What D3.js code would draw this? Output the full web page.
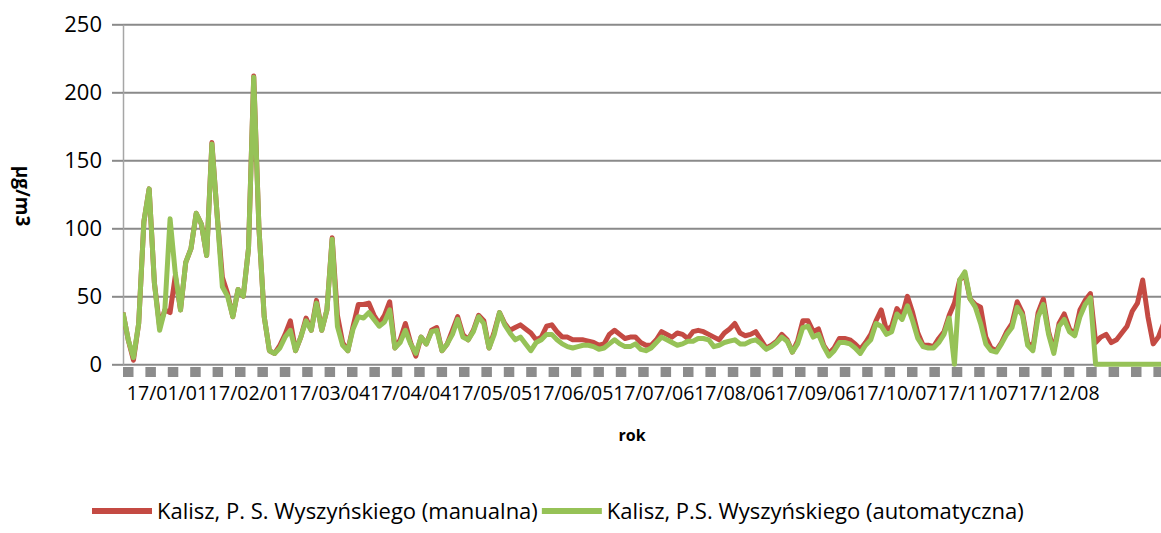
<!DOCTYPE html>
<html>
<head>
<meta charset="utf-8">
<script src="https://cdn.jsdelivr.net/npm/d3@7"></script>
<style>
  html, body { margin: 0; padding: 0; background: #fff; }
  svg { display: block; font-family: "Open Sans", sans-serif; }
</style>
</head>
<body>
<svg id="chart" width="1161" height="533"></svg>
<script>
const WIDTH = 1161;
const HEIGHT = 533;

// --- data: one value every 2 days ---
const STEP = 2;
const manualna = [
  38, 18, 3, 30, 105, 129, 60, 28, 40, 38,
  65, 40, 75, 85, 111, 103, 80, 163, 110, 64,
  52, 35, 55, 50, 85, 212, 100, 35, 10, 8,
  14, 22, 32, 10, 20, 34, 25, 47, 25, 40,
  93, 36, 16, 10, 28, 44, 44, 45, 36, 30,
  36, 46, 12, 18, 30, 16, 6, 20, 15, 25,
  27, 10, 15, 25, 35, 22, 18, 25, 36, 32,
  12, 24, 38, 30, 25, 27, 29, 26, 23, 18,
  20, 28, 29, 24, 20, 20, 18, 18, 18, 17,
  16, 14, 15, 22, 25, 22, 19, 20, 20, 16,
  14, 14, 18, 24, 22, 20, 23, 22, 19, 24,
  25, 24, 22, 20, 18, 23, 26, 30, 23, 21,
  22, 24, 18, 12, 14, 17, 22, 18, 9, 17,
  32, 32, 24, 26, 14, 8, 12, 19, 19, 18,
  15, 11, 16, 22, 32, 40, 25, 28, 41, 36,
  50, 38, 23, 14, 14, 13, 19, 24, 36, 45,
  62, 66, 48, 44, 42, 20, 12, 10, 16, 24,
  30, 46, 38, 16, 12, 38, 48, 24, 10, 30,
  37, 26, 22, 40, 47, 52, 16, 20, 22, 16,
  18, 23, 28, 39, 45, 62, 35, 15, 20, 30
];
const automatyczna = [
  38, 18, 5, 30, 105, 129, 60, 25, 40, 107,
  67, 40, 75, 85, 111, 103, 80, 162, 110, 57,
  50, 35, 55, 50, 85, 211, 100, 35, 10, 8,
  12, 20, 25, 10, 20, 32, 25, 45, 25, 40,
  92, 28, 14, 10, 26, 35, 34, 38, 33, 28,
  31, 40, 12, 16, 25, 15, 8, 20, 15, 24,
  25, 10, 15, 22, 33, 20, 18, 24, 35, 30,
  12, 22, 38, 29, 23, 18, 20, 15, 10, 16,
  18, 22, 22, 18, 15, 13, 12, 13, 14, 14,
  13, 11, 12, 15, 18, 15, 13, 13, 15, 11,
  10, 12, 16, 20, 18, 16, 14, 15, 17, 17,
  19, 19, 18, 13, 14, 16, 17, 18, 15, 15,
  17, 18, 15, 11, 13, 16, 20, 17, 9, 15,
  27, 28, 20, 22, 13, 6, 10, 16, 16, 15,
  12, 8, 14, 18, 30, 28, 22, 24, 37, 33,
  43, 32, 19, 13, 12, 12, 16, 22, 34, 0,
  62, 68, 48, 42, 30, 15, 10, 9, 15, 22,
  27, 42, 36, 14, 10, 35, 44, 22, 8, 28,
  33, 24, 21, 35, 44, 49, 0, 0, 0, 0,
  0, 0, 0, 0, 0, 0, 0, 0, 0, 0
];

const tickLabels = ["17/01/01", "17/02/01", "17/03/04", "17/04/04", "17/05/05", "17/06/05",
  "17/07/06", "17/08/06", "17/09/06", "17/10/07", "17/11/07", "17/12/08"];
const tickDays = [0, 31, 62, 93, 124, 155, 186, 217, 248, 279, 310, 341];
const yTicks = [0, 50, 100, 150, 200, 250];

const seriesNames = ["Kalisz, P. S. Wyszyńskiego (manualna)", "Kalisz, P.S. Wyszyńskiego (automatyczna)"];
const seriesColors = ["#c44a43", "#96c257"];

// --- scales ---
const plot = { left: 123, right: 1161, top: 24.3, bottom: 364.3 };
const x = d3.scaleLinear().domain([0, 397]).range([plot.left, plot.right]);
const y = d3.scaleLinear().domain([0, 250]).range([plot.bottom, plot.top]);

const svg = d3.select("#chart");

// gridlines
svg.append("g")
  .attr("transform", `translate(${plot.left},0)`)
  .call(d3.axisLeft(y).tickValues(yTicks).tickSize(-(plot.right - plot.left)).tickFormat(""))
  .call(g => g.select(".domain").remove())
  .call(g => g.selectAll("line").attr("stroke", "#8a8a8a").attr("stroke-width", 2));

// y axis with ticks and labels
svg.append("g")
  .attr("transform", `translate(${plot.left},0)`)
  .call(d3.axisLeft(y).tickValues(yTicks).tickSize(11).tickPadding(10).tickSizeOuter(0))
  .call(g => g.select(".domain").attr("stroke", "#a6a6a6").attr("stroke-width", 1.5))
  .call(g => g.selectAll(".tick line").attr("stroke", "#8a8a8a").attr("stroke-width", 2))
  .call(g => g.selectAll("text")
    .attr("font-family", "Open Sans, sans-serif")
    .attr("font-size", 22)
    .attr("fill", "#000"));

// thick dashed baseline under the axis
svg.append("line")
  .attr("x1", plot.left).attr("x2", plot.right)
  .attr("y1", 372).attr("y2", 372)
  .attr("stroke", "#8c8c8c")
  .attr("stroke-width", 10)
  .attr("stroke-dasharray", "10.5,11.9");

// x tick labels
svg.append("g")
  .selectAll("text")
  .data(tickLabels)
  .join("text")
  .attr("x", (d, i) => x(tickDays[i] + 17))
  .attr("y", 400)
  .attr("text-anchor", "middle")
  .attr("font-size", 19.5)
  .attr("fill", "#000")
  .text(d => d);

// series lines
svg.append("clipPath").attr("id", "clip")
  .append("rect")
  .attr("x", plot.left).attr("y", 0)
  .attr("width", plot.right - plot.left).attr("height", HEIGHT);

const line = d3.line()
  .x((d, i) => x(i * STEP))
  .y(d => y(d));

const lines = svg.append("g").attr("clip-path", "url(#clip)");
[manualna, automatyczna].forEach((series, k) => {
  lines.append("path")
    .datum(series)
    .attr("fill", "none")
    .attr("stroke", seriesColors[k])
    .attr("stroke-width", 5)
    .attr("stroke-linejoin", "round")
    .attr("d", line);
});

// axis titles
svg.append("text")
  .attr("x", 632).attr("y", 441)
  .attr("text-anchor", "middle")
  .attr("font-size", 16)
  .attr("font-weight", "bold")
  .text("rok");

svg.append("text")
  .attr("transform", "translate(16,196) rotate(90)")
  .attr("text-anchor", "middle")
  .attr("font-size", 19)
  .attr("font-weight", "bold")
  .text("µg/m3");

// legend: entries laid out one after another
const legend = svg.append("g");
const legendY = 511;
let lx = 92;
seriesNames.forEach((name, k) => {
  legend.append("line")
    .attr("x1", lx).attr("x2", lx + 60)
    .attr("y1", legendY).attr("y2", legendY)
    .attr("stroke", seriesColors[k])
    .attr("stroke-width", 6);
  const t = legend.append("text")
    .attr("x", lx + 65).attr("y", legendY + 8)
    .attr("font-size", 22)
    .attr("fill", "#000")
    .text(name);
  lx = lx + 65 + t.node().getComputedTextLength() + 4;
});
</script>
</body>
</html>
